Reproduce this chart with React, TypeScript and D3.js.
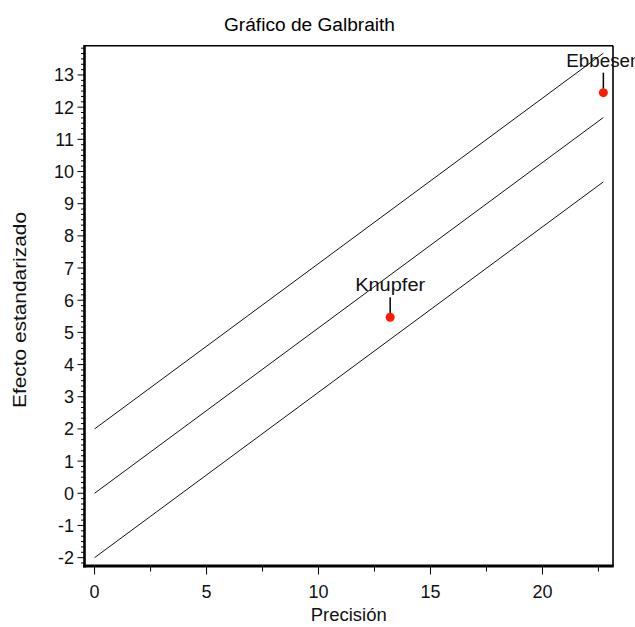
import React from "react";
import * as d3 from "d3";

// Galbraith plot: standardized effect vs precision, with the pooled-slope line and ±2 band
const studies = ["Knupfer", "Ebbesen"];
const precision = [13.2, 22.72];
const standardizedEffect = [5.47, 12.45];
const pooledSlope = 0.514;
const bandOffsets = [2, 0, -2];
const xTickValues = [0, 5, 10, 15, 20];
const yTickValues = [-2, -1, 0, 1, 2, 3, 4, 5, 6, 7, 8, 9, 10, 11, 12, 13];

const W = 635;
const H = 627;
const left = 84.5;
const right = 613;
const top = 45.7;
const bottom = 566;
const FONT = "'Liberation Sans', Arial, sans-serif";

export default function App() {
  const x = d3.scaleLinear().domain([-0.45, 23.15]).range([left, right]);
  const y = d3.scaleLinear().domain([-2.26, 13.91]).range([bottom, top]);

  const xMax = d3.max(precision) as number;
  const line = d3
    .line<number>()
    .x((d) => x(d[0]))
    .y((d) => y(d[1]));

  const yMinor: number[] = [];
  for (let v = -2; v <= 13.9; v += 1) {
    for (let k = 1; k < 6; k++) {
      const t = v + k / 6;
      if (t < 13.91) yMinor.push(t);
    }
  }
  yMinor.push(-2 - 1 / 6);
  const xMinor = [2.5, 7.5, 12.5, 17.5, 22.5];

  return (
    <svg
      width={W}
      height={H}
      style={{ position: "absolute", left: 0, top: 0, background: "#fff" }}
      fontFamily={FONT}
    >
      <rect x={0} y={0} width={W} height={H} fill="#fff" />
      <text x={309.5} y={31} textAnchor="middle" fontSize={18} textLength={171} lengthAdjust="spacingAndGlyphs" fill="#000">
        Gráfico de Galbraith
      </text>

      {/* band lines */}
      {bandOffsets.map((c, i) => (
        <path
          key={i}
          d={line([[0, c], [xMax, pooledSlope * xMax + c]] as any) || ""}
          fill="none"
          stroke="#111"
          strokeWidth={1}
        />
      ))}

      {/* frame */}
      <line x1={left} x2={right} y1={top} y2={top} stroke="#000" strokeWidth={1.6} />
      <line x1={right} x2={right} y1={top} y2={bottom} stroke="#000" strokeWidth={1.6} />
      <line x1={left} x2={left} y1={top - 0.8} y2={bottom + 1.5} stroke="#000" strokeWidth={2.6} />
      <line x1={left - 1.3} x2={right + 0.8} y1={bottom} y2={bottom} stroke="#000" strokeWidth={3} />

      {/* y ticks */}
      {yTickValues.map((v) => (
        <g key={"y" + v}>
          <line x1={left - 7} x2={left} y1={y(v)} y2={y(v)} stroke="#000" strokeWidth={1} />
          <text x={74} y={y(v)} dy="0.36em" textAnchor="end" fontSize={18} fill="#111">
            {v}
          </text>
        </g>
      ))}
      {yMinor.map((v, i) => (
        <line key={"ym" + i} x1={left - 3.5} x2={left} y1={y(v)} y2={y(v)} stroke="#000" strokeWidth={1} />
      ))}

      {/* x ticks */}
      {xTickValues.map((v) => (
        <g key={"x" + v}>
          <line x1={x(v)} x2={x(v)} y1={bottom} y2={bottom + 8.5} stroke="#000" strokeWidth={1} />
          <text x={x(v)} y={598} textAnchor="middle" fontSize={18} fill="#111">
            {v}
          </text>
        </g>
      ))}
      {xMinor.map((v) => (
        <line key={"xm" + v} x1={x(v)} x2={x(v)} y1={bottom} y2={bottom + 5.5} stroke="#000" strokeWidth={1} />
      ))}

      {/* axis titles */}
      <text x={348.7} y={621} textAnchor="middle" fontSize={18} textLength={76} lengthAdjust="spacingAndGlyphs" fill="#111">
        Precisión
      </text>
      <text
        transform={`translate(25.5,${310}) rotate(-90)`}
        textAnchor="middle"
        fontSize={19}
        textLength={196}
        lengthAdjust="spacingAndGlyphs"
        fill="#111"
      >
        Efecto estandarizado
      </text>

      {/* studies */}
      {studies.map((s, i) => {
        const px = x(precision[i]);
        const py = y(standardizedEffect[i]);
        return (
          <g key={s}>
            <line x1={px} x2={px} y1={py - 4} y2={py - 20} stroke="#000" strokeWidth={1.5} />
            <circle cx={px} cy={py} r={4.5} fill="#ff1a00" />
            <text
              x={px}
              y={py - 26}
              textAnchor="middle"
              fontSize={18}
              textLength={s === "Knupfer" ? 70 : 74}
              lengthAdjust="spacingAndGlyphs"
              fill="#111"
            >
              {s}
            </text>
          </g>
        );
      })}
    </svg>
  );
}
